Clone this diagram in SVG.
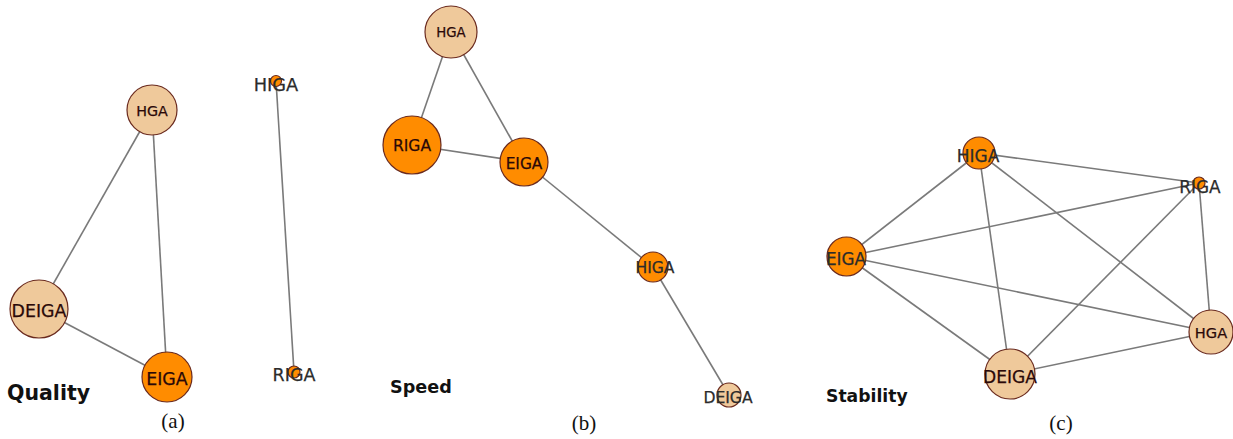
<svg xmlns="http://www.w3.org/2000/svg" width="1233" height="439" viewBox="0 0 1233 439">
<style>
.e{stroke:#7a7a7a;stroke-width:1.6;fill:none}
.tan{fill:#EFC99B;stroke:#6a2a1e;stroke-width:1.2}
.org{fill:#FF8C00;stroke:#6a2a1e;stroke-width:1.2}
.in{font-family:"DejaVu Sans",sans-serif;fill:#2a0808;text-anchor:middle;dominant-baseline:central;stroke:#2a0808;stroke-width:0.25}
.out{font-family:"DejaVu Sans",sans-serif;fill:#2b2b2b;text-anchor:middle;dominant-baseline:central;stroke:#2b2b2b;stroke-width:0.25}
.title{font-family:"DejaVu Sans",sans-serif;font-weight:bold;fill:#111}
.cap{font-family:"Liberation Serif",serif;font-size:21px;fill:#111;text-anchor:middle}
</style>
<rect width="1233" height="439" fill="#fff"/>
<g id="connectors">
  <line class="e" x1="152" y1="110" x2="39" y2="309"/>
  <line class="e" x1="152" y1="110" x2="167" y2="377"/>
  <line class="e" x1="39" y1="309" x2="167" y2="377"/>
  <line class="e" x1="276" y1="81" x2="294" y2="372"/>
  <line class="e" x1="451" y1="32" x2="412" y2="145"/>
  <line class="e" x1="451" y1="32" x2="524" y2="162"/>
  <line class="e" x1="412" y1="145" x2="524" y2="162"/>
  <line class="e" x1="524" y1="162" x2="653" y2="267"/>
  <line class="e" x1="653" y1="267" x2="729" y2="395"/>
  <line class="e" x1="979" y1="153" x2="846.5" y2="256.5"/>
  <line class="e" x1="979" y1="153" x2="1199" y2="183"/>
  <line class="e" x1="979" y1="153" x2="1010" y2="374"/>
  <line class="e" x1="979" y1="153" x2="1211" y2="332"/>
  <line class="e" x1="846.5" y1="256.5" x2="1199" y2="183"/>
  <line class="e" x1="846.5" y1="256.5" x2="1211" y2="332"/>
  <line class="e" x1="846.5" y1="256.5" x2="1010" y2="374"/>
  <line class="e" x1="1199" y1="183" x2="1010" y2="374"/>
  <line class="e" x1="1199" y1="183" x2="1211" y2="332"/>
  <line class="e" x1="1010" y1="374" x2="1211" y2="332"/>
</g>
<g id="a-HGA"><circle class="tan" cx="152" cy="110" r="25"/><text class="in" x="152" y="111" font-size="14.3">HGA</text></g>
<g id="a-DEIGA"><circle class="tan" cx="39" cy="309" r="29"/><text class="in" x="39" y="311" font-size="17.4">DEIGA</text></g>
<g id="a-EIGA"><circle class="org" cx="167" cy="377" r="25"/><text class="in" x="167" y="379" font-size="17.4">EIGA</text></g>
<g id="a-HIGA"><circle class="org" cx="276" cy="81" r="5.5"/><text class="out" x="276" y="84" font-size="17.8">HIGA</text></g>
<g id="a-RIGA"><circle class="org" cx="294" cy="372" r="6"/><text class="out" x="294" y="375" font-size="17.5">RIGA</text></g>
<text class="title" x="7" y="400" font-size="20.5">Quality</text>
<text class="cap" x="173" y="428">(a)</text>
<g id="b-HGA"><circle class="tan" cx="451" cy="32" r="26"/><text class="in" x="451" y="32" font-size="13.3">HGA</text></g>
<g id="b-RIGA"><circle class="org" cx="412" cy="145" r="29"/><text class="in" x="412" y="146" font-size="15.6">RIGA</text></g>
<g id="b-EIGA"><circle class="org" cx="524" cy="162" r="24"/><text class="in" x="524" y="164" font-size="15.4">EIGA</text></g>
<g id="b-HIGA"><circle class="org" cx="653" cy="267" r="15"/><text class="out" x="655" y="268" font-size="15.6">HIGA</text></g>
<g id="b-DEIGA"><circle class="tan" cx="729" cy="395" r="12"/><text class="out" x="728" y="398" font-size="15.6">DEIGA</text></g>
<text class="title" x="390" y="393" font-size="17.6">Speed</text>
<text class="cap" x="584" y="430">(b)</text>
<g id="c-HIGA"><circle class="org" cx="979" cy="153" r="16"/><text class="out" x="978" y="156" font-size="17">HIGA</text></g>
<g id="c-RIGA"><circle class="org" cx="1199" cy="183" r="6"/><text class="out" x="1200" y="187" font-size="16.9">RIGA</text></g>
<g id="c-EIGA"><circle class="org" cx="846.5" cy="256.5" r="19.5"/><text class="out" x="846" y="259" font-size="16.8">EIGA</text></g>
<g id="c-HGA"><circle class="tan" cx="1211" cy="332" r="22"/><text class="in" x="1211" y="332" font-size="14.6">HGA</text></g>
<g id="c-DEIGA"><circle class="tan" cx="1010" cy="374" r="25"/><text class="in" x="1010" y="377" font-size="17.1">DEIGA</text></g>
<text class="title" x="826" y="402" font-size="17.2">Stability</text>
<text class="cap" x="1061" y="430">(c)</text>
</svg>
